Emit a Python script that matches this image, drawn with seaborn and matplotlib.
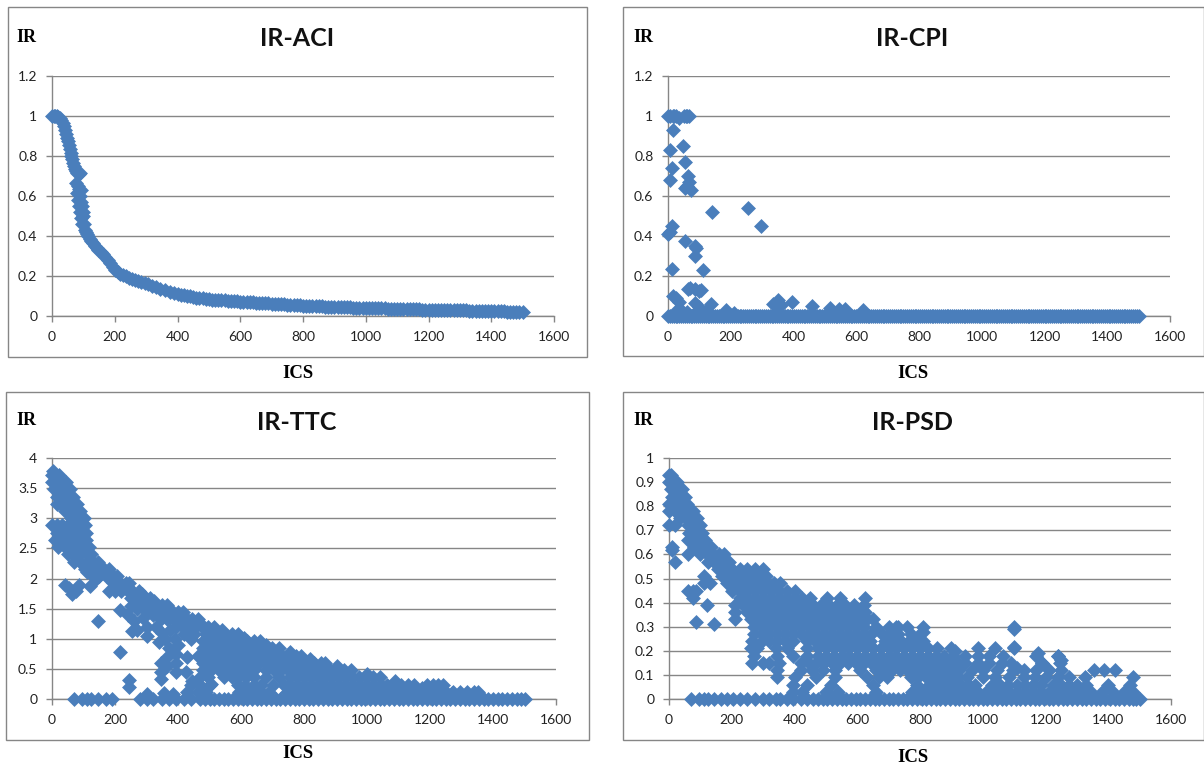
import numpy as np
import pandas as pd
import matplotlib.pyplot as plt
from matplotlib.patches import Rectangle
import seaborn as sns

# ---- data ----
aci_ics = [0, 5, 10, 15, 20, 25, 30, 35, 38, 42, 45, 48, 50, 53, 56, 59, 62, 65, 68, 71, 74, 77, 80, 85, 90, 78, 82, 86, 92,
           80, 88, 84, 92, 86, 95, 90, 98, 92, 100, 95, 102, 105, 108, 112, 116, 120, 125, 130, 136, 142, 148, 155, 162, 170,
           178, 186, 194, 202, 210, 218, 226, 235, 245, 255, 265, 275, 285, 295, 305, 318, 330, 345, 360, 375, 390,
           400, 410, 420, 430, 440, 450, 460, 470, 480, 490, 500, 510, 520, 530, 540, 550, 560, 570, 580, 590, 600, 610, 620,
           630, 640, 650, 660, 670, 680, 690, 700, 710, 720, 730, 740, 750, 760, 770, 780, 790, 800, 810, 820, 830, 840, 850,
           860, 870, 880, 890, 900, 910, 920, 930, 940, 950, 960, 970, 980, 990, 1000, 1010, 1020, 1030, 1040, 1050, 1060,
           1070, 1080, 1090, 1100, 1110, 1120, 1130, 1140, 1150, 1160, 1170, 1180, 1190, 1200, 1210, 1220, 1230, 1240, 1250,
           1260, 1270, 1280, 1290, 1300, 1310, 1320, 1330, 1340, 1350, 1360, 1370, 1380, 1390, 1400, 1410, 1420, 1430, 1440,
           1450, 1460, 1470, 1480, 1490, 1500]
aci_ir = [1.0, 1.0, 1.0, 1.0, 0.995, 0.99, 0.98, 0.965, 0.95, 0.93, 0.91, 0.89, 0.875, 0.855, 0.835, 0.815, 0.8, 0.785, 0.765,
          0.75, 0.735, 0.725, 0.715, 0.71, 0.715, 0.665, 0.65, 0.635, 0.63, 0.615, 0.6, 0.58, 0.57, 0.55, 0.55, 0.52, 0.52, 0.49,
          0.5, 0.46, 0.46, 0.43, 0.42, 0.41, 0.4, 0.385, 0.375, 0.365, 0.35, 0.34, 0.33, 0.32, 0.31, 0.295, 0.28, 0.265, 0.245,
          0.23, 0.22, 0.21, 0.205, 0.2, 0.19, 0.185, 0.18, 0.175, 0.17, 0.165, 0.16, 0.15, 0.145, 0.135, 0.13, 0.12, 0.115,
          0.11, 0.107, 0.104, 0.101, 0.098, 0.095, 0.092, 0.09, 0.088, 0.086, 0.084, 0.082, 0.081, 0.08, 0.079, 0.078, 0.077,
          0.076, 0.075, 0.074, 0.072, 0.071, 0.07, 0.069, 0.068, 0.067, 0.066, 0.065, 0.064, 0.063, 0.062, 0.061, 0.06, 0.059,
          0.058, 0.057, 0.056, 0.055, 0.054, 0.053, 0.052, 0.052, 0.051, 0.05, 0.049, 0.048, 0.048, 0.047, 0.046,
          0.046, 0.045, 0.045, 0.044, 0.044, 0.043, 0.043, 0.042, 0.042, 0.041, 0.041, 0.04, 0.04, 0.039, 0.039, 0.038,
          0.038, 0.038, 0.037, 0.037, 0.037, 0.036, 0.036, 0.035, 0.035, 0.034, 0.034, 0.033, 0.033, 0.032, 0.032, 0.031,
          0.031, 0.031, 0.03, 0.03, 0.03, 0.03, 0.029, 0.029, 0.029, 0.028, 0.028, 0.028, 0.027, 0.027, 0.027, 0.026, 0.026,
          0.026, 0.025, 0.025, 0.024, 0.024, 0.023, 0.023, 0.022, 0.022, 0.021, 0.021, 0.02, 0.02]

cpi_zero_ics = [0, 6, 12, 18, 24, 30, 36, 42, 48, 54, 60, 66, 72, 78, 84, 90, 96, 102, 108, 114, 120, 126, 132, 138, 144, 150,
                156, 162, 168, 174, 180, 186, 192, 198, 204, 210, 216, 222, 228, 234, 240, 246, 252, 258, 264, 270, 276, 282,
                288, 294, 300, 306, 312, 318, 324, 330, 336, 342, 348, 354, 360, 366, 372, 378, 384, 390, 396, 402, 408, 414,
                420, 426, 432, 438, 444, 450, 456, 462, 468, 474, 480, 486, 492, 498, 504, 510, 516, 522, 528, 534, 540, 546,
                552, 558, 564, 570, 576, 582, 588, 594, 600, 606, 612, 618, 624, 630, 636, 642, 648, 654, 660, 666, 672, 678,
                684, 690, 696, 702, 708, 714, 720, 726, 732, 738, 744, 750, 756, 762, 768, 774, 780, 786, 792, 798, 804, 810,
                816, 822, 828, 834, 840, 846, 852, 858, 864, 870, 876, 882, 888, 894, 900, 906, 912, 918, 924, 930, 936, 942,
                948, 954, 960, 966, 972, 978, 984, 990, 996, 1002, 1008, 1014, 1020, 1026, 1032, 1038, 1044, 1050, 1056, 1062,
                1068, 1074, 1080, 1086, 1092, 1098, 1104, 1110, 1116, 1122, 1128, 1134, 1140, 1146, 1152, 1158, 1164, 1170,
                1176, 1182, 1188, 1194, 1200, 1206, 1212, 1218, 1224, 1230, 1236, 1242, 1248, 1254, 1260, 1266, 1272, 1278,
                1284, 1290, 1296, 1302, 1308, 1314, 1320, 1326, 1332, 1338, 1344, 1350, 1356, 1362, 1368, 1374, 1380, 1386,
                1392, 1398, 1404, 1410, 1416, 1422, 1428, 1434, 1440, 1446, 1452, 1458, 1464, 1470, 1476, 1482, 1488, 1494,
                1500]
cpi_ics = [0, 5, 15, 20, 25, 35, 52, 58, 62, 67, 15, 48, 5, 55, 12, 7, 65, 67, 60, 55, 72, 140, 255, 295, 0, 13, 5, 55, 85,
           90, 85, 113, 13, 70, 65, 85, 100, 105, 15, 35, 25, 85, 100, 138, 335, 350, 360, 345, 395, 460, 515, 545, 565,
           620, 185, 30, 60, 120, 95, 45, 210]
cpi_ir = [1.0, 1.0, 1.0, 1.0, 1.0, 0.99, 1.0, 1.0, 1.0, 1.0, 0.93, 0.85, 0.83, 0.77, 0.74, 0.68, 0.7, 0.67, 0.65, 0.64, 0.63,
          0.52, 0.54, 0.45, 0.41, 0.45, 0.42, 0.375, 0.35, 0.34, 0.3, 0.23, 0.235, 0.14, 0.135, 0.135, 0.125, 0.13, 0.1, 0.07,
          0.09, 0.065, 0.045, 0.06, 0.06, 0.08, 0.055, 0.05, 0.07, 0.05, 0.04, 0.035, 0.035, 0.03, 0.03, 0.03, 0.02, 0.025,
          0.03, 0.025, 0.015]

ttc_levels = [0.0, 0.12, 0.24, 0.36, 0.48, 0.6, 0.72, 0.84, 0.96, 1.08, 1.2, 1.32, 1.44, 1.56, 1.68, 1.8, 1.92, 2.04, 2.16,
              2.28, 2.4, 2.52, 2.64, 2.76, 2.88, 3.0, 3.12, 3.24, 3.36, 3.48, 3.6, 3.72]
ttc_rows = [
    [70, 95, 110, 125, 145, 170, 190, 280, 300, 320, 350, 370, 395, 420, 440, 470, 485, 500, 515, 530, 545, 560, 575, 590, 605,
     620, 635, 650, 665, 680, 695, 710, 725, 740, 755, 770, 785, 800, 815, 830, 845, 860, 875, 890, 905, 920, 935, 950, 965,
     980, 995, 1010, 1025, 1040, 1055, 1070, 1085, 1100, 1115, 1130, 1145, 1160, 1175, 1190, 1205, 1220, 1235, 1250, 1265,
     1280, 1295, 1310, 1325, 1340, 1355, 1370, 1385, 1400, 1415, 1430, 1445, 1460, 1475, 1490, 1500],
    [430, 465, 490, 595, 625, 645, 665, 690, 745, 770, 790, 812, 834, 856, 878, 900, 922, 944, 966, 988, 1010, 1032, 1054, 1076,
     1098, 1120, 1142, 1164, 1186, 1208, 1230, 1252, 1274, 1296, 1318, 1340, 1352],
    [440, 470, 500, 590, 612, 640, 665, 700, 735, 757, 779, 801, 823, 845, 867, 889, 911, 933, 955, 977, 999, 1021, 1043, 1065,
     1087, 1109, 1131, 1150, 1190, 1210, 1225, 1240],
    [470, 495, 545, 570, 592, 615, 640, 680, 720, 755, 777, 799, 821, 843, 865, 887, 909, 931, 953, 975, 997, 1019, 1040],
    [480, 505, 530, 552, 574, 596, 618, 640, 680, 705, 727, 750, 772, 794, 816, 838, 860, 882, 904, 926, 950],
    [480, 502, 524, 546, 568, 590, 612, 634, 656, 678, 700, 722, 744, 766, 788, 810, 832, 854, 868],
    [465, 490, 510, 532, 554, 576, 598, 620, 642, 664, 686, 708, 730, 752, 774, 790],
    [480, 500, 522, 544, 566, 588, 610, 632, 654, 676, 698, 720],
    [480, 500, 520, 540, 560, 580, 600, 620, 640, 660],
    [420, 450, 490, 510, 530, 550, 570, 590],
    [395, 415, 435, 455, 475, 495, 515],
    [345, 365, 385, 405, 425, 445, 465],
    [300, 320, 340, 360, 380, 400, 415],
    [270, 290, 310, 330, 350, 365],
    [250, 270, 290, 310],
    [180, 200, 220, 240, 255, 275],
    [195, 215, 235, 245],
    [130, 150, 170, 190, 205],
    [105, 125, 145, 165, 180],
    [70, 90, 110, 130, 145],
    [50, 70, 90, 110, 125],
    [20, 40, 60, 80, 100, 118],
    [8, 28, 48, 68, 88, 108],
    [15, 35, 55, 75, 95, 108],
    [0, 15, 32, 50, 70, 90, 104],
    [60, 80, 100],
    [40, 60, 80, 90],
    [15, 30, 50, 70, 80],
    [15, 35, 55, 68],
    [5, 25, 45, 58],
    [0, 15, 30, 45],
    [0, 12, 22],
]
ttc_extra_ics = [40, 55, 65, 75, 85, 120, 110, 145, 215, 245, 245, 140, 250, 215, 240, 260, 270, 255, 290, 300, 300, 330, 350,
                 360, 340, 375, 390, 400, 370, 395, 365, 345, 345, 345, 365, 395, 395, 425, 355, 445, 470, 270, 320, 290,
                 505, 3, 300, 385, 430, 440,
                 1000, 1090, 905, 820, 755, 680, 610, 540, 470, 420, 375, 325, 285, 240, 205, 180, 1175, 1270]
ttc_extra_ir = [1.9, 1.85, 1.75, 1.8, 1.9, 1.87, 2.1, 1.3, 0.78, 0.32, 0.2, 2.0, 1.55, 1.47, 1.4, 1.3, 1.15, 1.13, 1.35, 1.2,
                1.05, 1.2, 1.1, 1.0, 0.95, 1.15, 1.0, 0.9, 0.85, 0.75, 0.7, 0.6, 0.45, 0.33, 0.55, 0.6, 0.45, 0.45, 0.1, 0.3,
                0.7, 1.5, 1.4, 1.55, 0.25, 3.78, 0.08, 0.08, 0.7, 1.0,
                0.42, 0.3, 0.54, 0.66, 0.78, 0.9, 1.02, 1.14, 1.26, 1.38, 1.5, 1.62, 1.74, 1.86, 1.98, 2.1, 0.18, 0.1]

psd_levels = [0.0, 0.03, 0.06, 0.09, 0.12, 0.15, 0.18, 0.21, 0.24, 0.27, 0.3, 0.33, 0.36, 0.39, 0.42, 0.45, 0.48, 0.51, 0.54,
              0.57, 0.6, 0.63, 0.66, 0.69, 0.72, 0.75, 0.78, 0.81, 0.84, 0.87, 0.9, 0.93]
psd_rows = [
    [70, 95, 110, 125, 145, 165, 185, 205, 225, 250, 275, 300, 320, 340, 355, 375, 395, 420, 440, 460, 475, 490, 505, 520, 535,
     550, 565, 580, 595, 610, 625, 640, 655, 670, 685, 700, 715, 730, 745, 760, 775, 790, 805, 820, 835, 850, 865, 880, 895,
     910, 925, 940, 955, 970, 985, 1000, 1015, 1030, 1045, 1060, 1075, 1090, 1105, 1120, 1135, 1150, 1165, 1180, 1195, 1210,
     1225, 1240, 1255, 1270, 1285, 1300, 1315, 1330, 1345, 1360, 1375, 1390, 1405, 1420, 1435, 1450, 1465, 1480, 1490, 1500],
    [395, 425, 500, 540, 660, 775, 810, 835, 860, 885, 910, 935, 960, 985, 1010, 1035, 1060, 1085, 1110, 1135,
     1160, 1185, 1210, 1240, 1265, 1290, 1315, 1345, 1380, 1415, 1450, 1480],
    [395, 440, 515, 650, 790, 830, 855, 880, 905, 930, 955, 975, 1030, 1055, 1080, 1110, 1135, 1160,
     1185, 1225, 1250, 1275, 1300, 1330, 1400, 1470],
    [345, 400, 470, 530, 630, 670, 695, 770, 795, 820, 845, 870, 895, 920, 950, 1000, 1040, 1085, 1130, 1165,
     1200, 1240, 1275, 1325, 1480],
    [345, 420, 455, 490, 530, 610, 660, 685, 710, 735, 760, 785, 810, 835, 860, 885, 910, 925, 965, 1000,
     1045, 1095, 1130, 1170, 1210, 1250, 1355, 1385, 1420],
    [265, 300, 320, 350, 420, 445, 470, 495, 520, 545, 570, 595, 620, 645, 670, 695, 720, 745, 770, 795, 820, 845, 870, 895, 920,
     945, 985, 1020, 1060, 1090, 1190, 1245],
    [270, 345, 395, 440, 475, 500, 525, 550, 575, 600, 625, 650, 675, 700, 725, 750, 775, 800, 825, 850, 875, 905, 945, 985,
     1020, 1065, 1170, 1240],
    [260, 280, 340, 375, 440, 475, 500, 525, 550, 575, 600, 625, 650, 675, 700, 725, 750, 775, 800, 825, 855, 900, 985, 1040, 1100],
    [265, 295, 320, 345, 370, 395, 440, 465, 490, 515, 540, 565, 590, 615, 640, 690, 715, 740, 765, 790, 810],
    [270, 295, 320, 345, 370, 395, 420, 445, 470, 495, 520, 545, 570, 595, 620, 645, 680, 705, 730, 770, 800],
    [270, 295, 320, 345, 370, 395, 420, 445, 470, 495, 520, 545, 570, 595, 620, 660, 700, 725, 760, 810, 1100],
    [210, 260, 285, 310, 335, 360, 385, 410, 435, 460, 485, 510, 535, 560, 585, 610, 630, 650],
    [210, 250, 275, 300, 325, 350, 375, 400, 425, 450, 475, 500, 525, 550, 575, 600, 625],
    [120, 210, 235, 260, 285, 310, 335, 360, 385, 410, 435, 460, 485, 510, 535, 560, 590, 620],
    [75, 225, 250, 275, 300, 325, 350, 375, 400, 425, 450, 505, 545, 625],
    [60, 75, 85, 200, 225, 250, 275, 300, 325, 350, 375, 400],
    [110, 130, 185, 210, 235, 260, 285, 310, 335, 355],
    [110, 170, 195, 220, 245, 270, 295, 310],
    [155, 175, 200, 225, 250, 275, 300],
    [20, 125, 145, 165, 190],
    [60, 100, 120, 140, 160, 175],
    [10, 80, 100, 120, 135],
    [60, 80, 100, 115],
    [65, 85, 105],
    [0, 20, 60, 80, 100],
    [35, 55, 75, 90],
    [0, 20, 40, 60, 75],
    [0, 20, 40, 58],
    [10, 30, 50],
    [5, 22, 40],
    [0, 15, 25],
    [0, 5],
]
psd_extra_ics = [85, 145, 10, 1100, 1175, 1240, 1250, 1190, 615, 910, 730, 810, 1100, 1110]
psd_extra_ir = [0.32, 0.31, 0.62, 0.29, 0.19, 0.18, 0.16, 0.15, 0.37, 0.2, 0.3, 0.28, 0.215, 0.13]

x_ticks = [0, 200, 400, 600, 800, 1000, 1200, 1400, 1600]
aci_ticks = [0, 0.2, 0.4, 0.6, 0.8, 1, 1.2]
ttc_ticks = [0, 0.5, 1, 1.5, 2, 2.5, 3, 3.5, 4]
psd_ticks = [0, 0.1, 0.2, 0.3, 0.4, 0.5, 0.6, 0.7, 0.8, 0.9, 1]

W, H = 1204, 769
BLUE = '#4A7EBB'
GREY = '#868686'


def rows_to_frame(levels, rows, extra_ics, extra_ir):
    xs = [x for row in rows for x in row] + extra_ics
    ys = [lv for lv, row in zip(levels, rows) for _ in row] + extra_ir
    return pd.DataFrame({'ICS': xs, 'IR': ys})


aci_df = pd.DataFrame({'ICS': aci_ics, 'IR': aci_ir})
cpi_df = pd.DataFrame({'ICS': cpi_zero_ics + cpi_ics, 'IR': [0.0] * len(cpi_zero_ics) + cpi_ir})
ttc_df = rows_to_frame(ttc_levels, ttc_rows, ttc_extra_ics, ttc_extra_ir)
psd_df = rows_to_frame(psd_levels, psd_rows, psd_extra_ics, psd_extra_ir)

sns.set_style('white')
fig = plt.figure(figsize=(W / 100, H / 100), dpi=100, facecolor='white')

# layout in pixels: frame box, plot box, label places
panels = [
    dict(df=aci_df, title='IR-ACI', ticks=aci_ticks, frame=(8, 7, 587, 357), box=(52, 76, 554, 316),
         ir=(26, 37), ics=(298, 374), tx=297, ty=38),
    dict(df=cpi_df, title='IR-CPI', ticks=aci_ticks, frame=(623, 7, 1204, 356), box=(668, 76, 1170, 316),
         ir=(643, 37), ics=(913, 373), tx=912, ty=38),
    dict(df=ttc_df, title='IR-TTC', ticks=ttc_ticks, frame=(6, 392, 589, 740), box=(52, 458, 556, 699),
         ir=(26, 420), ics=(298, 754), tx=297, ty=422),
    dict(df=psd_df, title='IR-PSD', ticks=psd_ticks, frame=(623, 392, 1204, 740), box=(669, 458, 1171, 699),
         ir=(643, 420), ics=(913, 758), tx=913, ty=422),
]

for p in panels:
    fx0, fy0, fx1, fy1 = p['frame']
    fig.add_artist(Rectangle((fx0 / W, 1 - fy1 / H), (fx1 - fx0) / W, (fy1 - fy0) / H, transform=fig.transFigure,
                             fill=False, ec=GREY, lw=1))
    x0, y0, x1, y1 = p['box']
    ax = fig.add_axes([x0 / W, 1 - y1 / H, (x1 - x0) / W, (y1 - y0) / H])
    sns.scatterplot(data=p['df'], x='ICS', y='IR', marker='D', s=58, color=BLUE, linewidth=0, clip_on=False, zorder=3, ax=ax)
    ax.set_xlim(0, 1600)
    ax.set_ylim(0, p['ticks'][-1])
    ax.set_xticks(x_ticks)
    ax.set_yticks(p['ticks'])
    ax.set_yticklabels([str(t) for t in p['ticks']])
    ax.set_xlabel('')
    ax.set_ylabel('')
    ax.set_axisbelow(True)
    ax.grid(axis='y', color=GREY, lw=1)
    ax.grid(axis='x', visible=False)
    sns.despine(ax=ax)
    for side in ['left', 'bottom']:
        ax.spines[side].set_color(GREY)
        ax.spines[side].set_linewidth(1)
    ax.tick_params(axis='both', length=4.5, width=1, color=GREY, labelsize=10, labelcolor='#222222', pad=6, left=True, bottom=True)
    for lab in ax.get_xticklabels() + ax.get_yticklabels():
        lab.set_fontfamily('Lato')
    fig.text(p['tx'] / W, 1 - p['ty'] / H, p['title'], ha='center', va='center', fontsize=18, fontweight='bold',
             family='Lato', color='#111111')
    fig.text(p['ir'][0] / W, 1 - p['ir'][1] / H, 'IR', ha='center', va='center', fontsize=13, fontweight='bold',
             family='Liberation Serif', color='black')
    fig.text(p['ics'][0] / W, 1 - p['ics'][1] / H, 'ICS', ha='center', va='center', fontsize=13.5, fontweight='bold',
             family='Liberation Serif', color='black')

fig.savefig('out.png', dpi=100)
